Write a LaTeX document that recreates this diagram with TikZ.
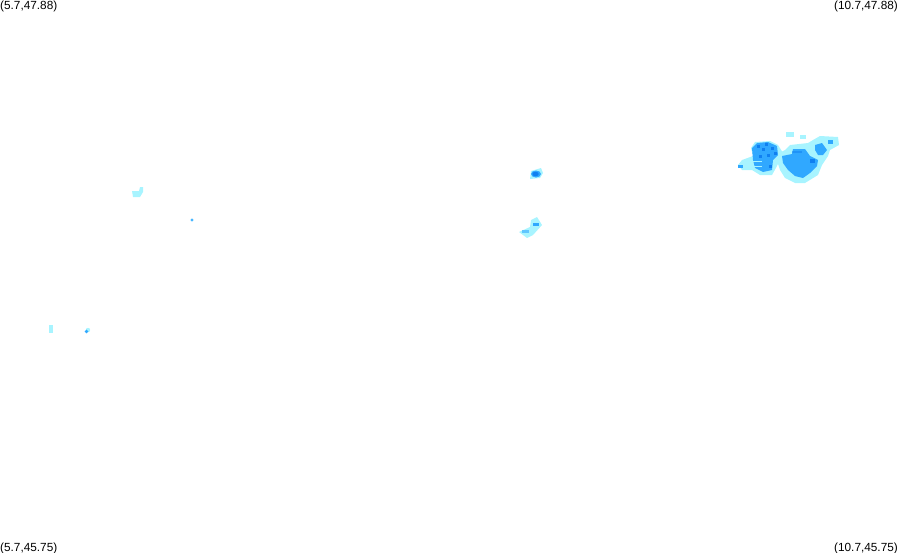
\documentclass[tikz,border=0pt]{standalone}
\usepackage{fontspec}
\setmainfont{Liberation Sans}
\usepackage{xcolor}
\definecolor{raincyan}{HTML}{A8F4FF}
\definecolor{rainblue}{HTML}{30A8FF}
\definecolor{raindeep}{HTML}{1080F0}
\usetikzlibrary{positioning}
\tikzset{
    cornerlabel/.style={inner sep=0pt, font=\fontsize{11.8}{12}\selectfont},
    lightpatch/.style={fill=raincyan},
    midpatch/.style={fill=rainblue},
    deeppatch/.style={fill=raindeep}
}

\begin{document}
\begin{tikzpicture}[x=1pt, y=-1pt]
    \useasboundingbox (0,0) rectangle (899,552);

    \node[cornerlabel, anchor=base west] (topleft) at (0,9) {(5.7,47.88)};
    \node[cornerlabel, anchor=base east] (topright) at (898,9) {(10.7,47.88)};
    \node[cornerlabel, anchor=base west] (bottomleft) at (0,551) {(5.7,45.75)};
    \node[cornerlabel, anchor=base east] (bottomright) at (898,551) {(10.7,45.75)};

    % big cell, light part
    \fill[lightpatch] (738,165) -- (742,160) -- (753,156) -- (751,148) -- (755,142) -- (770,141) -- (778,145) -- (783,153) -- (777,166) -- (772,175) -- (760,175) -- (752,170) -- (742,170) -- cycle;
    \fill[lightpatch] (775,155) -- (785,150) -- (790,145) -- (808,143) -- (813,140) -- (820,136) -- (838,137) -- (839,145) -- (830,150) -- (828,156) -- (822,165) -- (818,175) -- (805,183) -- (795,183) -- (785,178) -- (780,170) -- (777,161) -- cycle;
    \fill[lightpatch] (786,132) rectangle (794,137);
    \fill[lightpatch] (800,135) rectangle (806,139);

    % big cell, middle part
    \fill[midpatch] (752,148) -- (757,143) -- (768,142) -- (777,146) -- (778,155) -- (773,160) -- (772,170) -- (763,172) -- (755,168) -- (753,160) -- cycle;
    \fill[lightpatch] (753,161) rectangle (762,162);
    \fill[lightpatch] (753,165.5) rectangle (762,166.5);
    \fill[midpatch] (738,165) rectangle (743,168);
    \fill[midpatch] (782,156) -- (792,154) -- (793,149) -- (805,149) -- (810,156) -- (818,160) -- (817,166) -- (810,173) -- (803,178) -- (795,176) -- (788,170) -- (783,163) -- cycle;
    \fill[midpatch] (815,145) -- (822,143) -- (827,150) -- (823,155) -- (818,155) -- (815,150) -- cycle;
    \fill[midpatch] (828,140) rectangle (833,144);

    % big cell, deep spots
    \foreach \spotx/\spoty in {763/149, 772/148, 775/153, 768/155, 760/156, 770/166, 758/146, 766/144}
        \fill[deeppatch] (\spotx-1.5,\spoty-1.5) rectangle (\spotx+1.5,\spoty+1.5);
    \fill[deeppatch] (809.5,159) rectangle (814.5,163);
    \fill[deeppatch, opacity=0.5] (792,151) rectangle (802,153);

    % middle cells
    \fill[lightpatch] (531,171) -- (541,168) -- (543,173) -- (540,178) -- (530,179) -- cycle;
    \fill[rainblue] (536,174) ellipse (5 and 3.5);
    \fill[deeppatch] (535.5,174) ellipse (3.2 and 2.2);

    \fill[lightpatch] (519,232) -- (530,227) -- (531,220) -- (537,217) -- (542,225) -- (533,235) -- (527,238) -- cycle;
    \fill[rainblue!60!raincyan] (522,230) rectangle (529,233);
    \fill[rainblue] (533,223) rectangle (539,226);

    % left cells
    \fill[lightpatch] (132,191) -- (139,191) -- (140,187) -- (143,187) -- (143,192) -- (140,197) -- (133,197) -- cycle;
    \fill[rainblue!80!raincyan] (192,220) circle (1.7);
    \fill[lightpatch] (49,325) rectangle (53,333);
    \fill[raincyan] (88,330) circle (2.2);
    \fill[rainblue] (86.5,331.5) circle (1.9);
\end{tikzpicture}
\end{document}
